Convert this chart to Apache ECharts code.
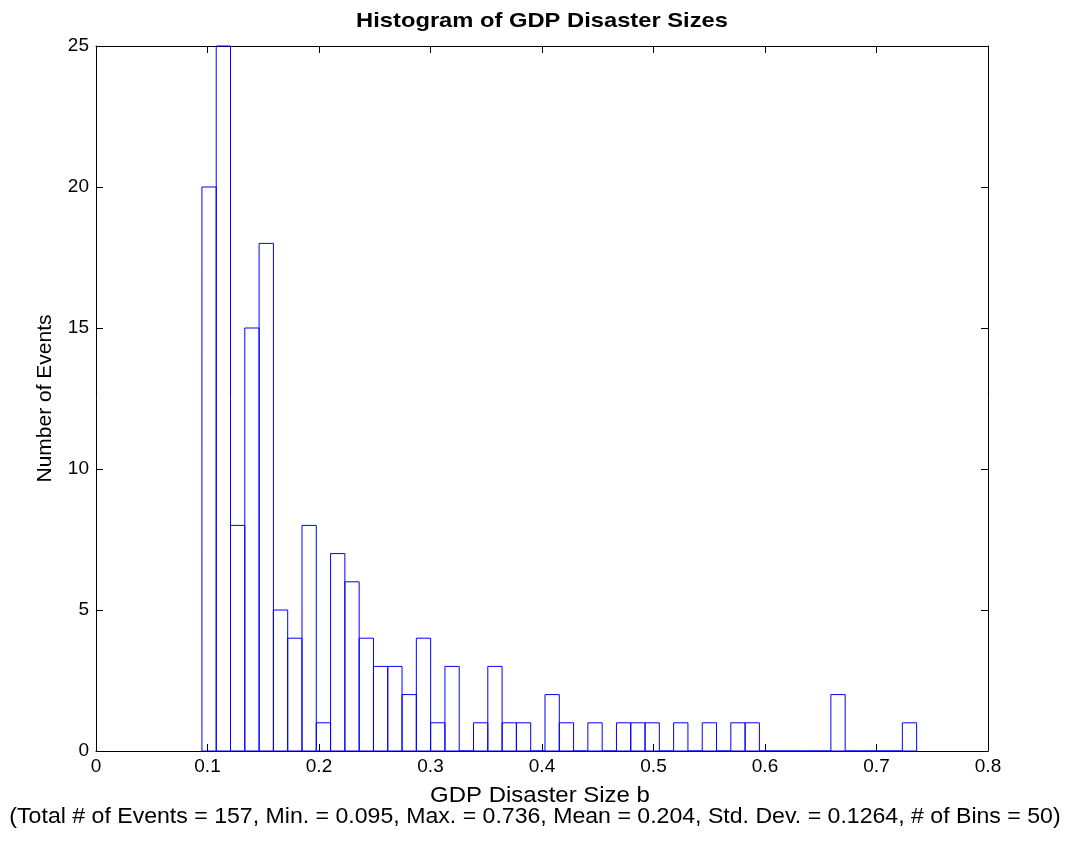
<!DOCTYPE html>
<html>
<head>
<meta charset="utf-8">
<script src="https://cdn.jsdelivr.net/npm/echarts@6/dist/echarts.min.js"></script>
<style>
html,body{margin:0;padding:0;background:#fff;}
#chart{width:1078px;height:842px;}
</style>
</head>
<body>
<div id="chart"></div>
<script>
// Histogram definition (from the chart's caption)
var dataMin = 0.095;
var dataMax = 0.736;
var nBins = 50;
// Counts per bin
var binCounts = [20, 25, 8, 15, 18, 5, 4, 8, 1, 7,
                 6, 4, 3, 3, 2, 4, 1, 3, 0, 1,
                 3, 1, 1, 0, 2, 1, 0, 1, 0, 1,
                 1, 1, 0, 1, 0, 1, 0, 1, 1, 0,
                 0, 0, 0, 0, 2, 0, 0, 0, 0, 1];
var xTicks = [0, 0.1, 0.2, 0.3, 0.4, 0.5, 0.6, 0.7, 0.8];
var yTicks = [0, 5, 10, 15, 20, 25];
var titleText = 'Histogram of GDP Disaster Sizes';
var xLabel = 'GDP Disaster Size b';
var xCaption = '(Total # of Events = 157, Min. = 0.095, Max. = 0.736, Mean = 0.204, Std. Dev. = 0.1264, # of Bins = 50)';
var yLabel = 'Number of Events';

var binWidth = (dataMax - dataMin) / nBins;
var histData = binCounts.map(function (c, i) {
  return [dataMin + i * binWidth, dataMin + (i + 1) * binWidth, c];
});

var FONT = '"Liberation Sans", Arial, Helvetica, sans-serif';
var chart = echarts.init(document.getElementById('chart'), null, {renderer: 'canvas'});

var axisCommon = {
  axisLine: {show: true, onZero: false, lineStyle: {color: '#000', width: 1}},
  axisTick: {show: true, inside: true, length: 7, lineStyle: {color: '#000', width: 1}},
  splitLine: {show: false}
};

chart.setOption({
  animation: false,
  backgroundColor: '#fff',
  graphic: [
    {type: 'text', x: 542, y: 21, scaleX: 1.13, silent: true,
     style: {text: titleText, fill: '#000', font: 'bold 21px ' + FONT,
             textAlign: 'center', textVerticalAlign: 'middle'}},
    {type: 'text', x: 540, y: 796, scaleX: 1.09, silent: true,
     style: {text: xLabel, fill: '#000', font: '22px ' + FONT,
             textAlign: 'center', textVerticalAlign: 'middle'}},
    {type: 'text', x: 535, y: 817, scaleX: 1.05, silent: true,
     style: {text: xCaption, fill: '#000', font: '22px ' + FONT,
             textAlign: 'center', textVerticalAlign: 'middle'}}
  ],
  grid: {left: 96, right: 90, top: 46, bottom: 91, containLabel: false},
  xAxis: [
    Object.assign({}, axisCommon, {
      type: 'value', position: 'bottom', min: xTicks[0], max: xTicks[xTicks.length - 1], interval: 0.1,
      axisLabel: {fontFamily: FONT, fontSize: 19, color: '#000', margin: 6,
        formatter: function (v) { return String(+v.toFixed(1)); }}
    }),
    Object.assign({}, axisCommon, {
      type: 'value', position: 'top', min: xTicks[0], max: xTicks[xTicks.length - 1], interval: 0.1,
      axisLabel: {show: false}
    })
  ],
  yAxis: [
    Object.assign({}, axisCommon, {
      type: 'value', position: 'left', min: yTicks[0], max: yTicks[yTicks.length - 1], interval: 5,
      name: yLabel, nameLocation: 'middle', nameGap: 40, nameRotate: 90,
      nameTextStyle: {fontFamily: FONT, fontSize: 21, color: '#000'},
      axisLabel: {fontFamily: FONT, fontSize: 19, color: '#000', margin: 7}
    }),
    Object.assign({}, axisCommon, {
      type: 'value', position: 'right', min: yTicks[0], max: yTicks[yTicks.length - 1], interval: 5,
      axisLabel: {show: false}
    })
  ],
  series: [{
    type: 'custom',
    xAxisIndex: 0, yAxisIndex: 0,
    data: histData,
    clip: false,
    renderItem: function (params, api) {
      var p0 = api.coord([api.value(0), api.value(2)]);
      var p1 = api.coord([api.value(1), 0]);
      return {
        type: 'rect',
        shape: {x: p0[0], y: p0[1], width: p1[0] - p0[0], height: p1[1] - p0[1]},
        style: {fill: 'none', stroke: '#0000ff', lineWidth: 1}
      };
    }
  }]
});
</script>
</body>
</html>
